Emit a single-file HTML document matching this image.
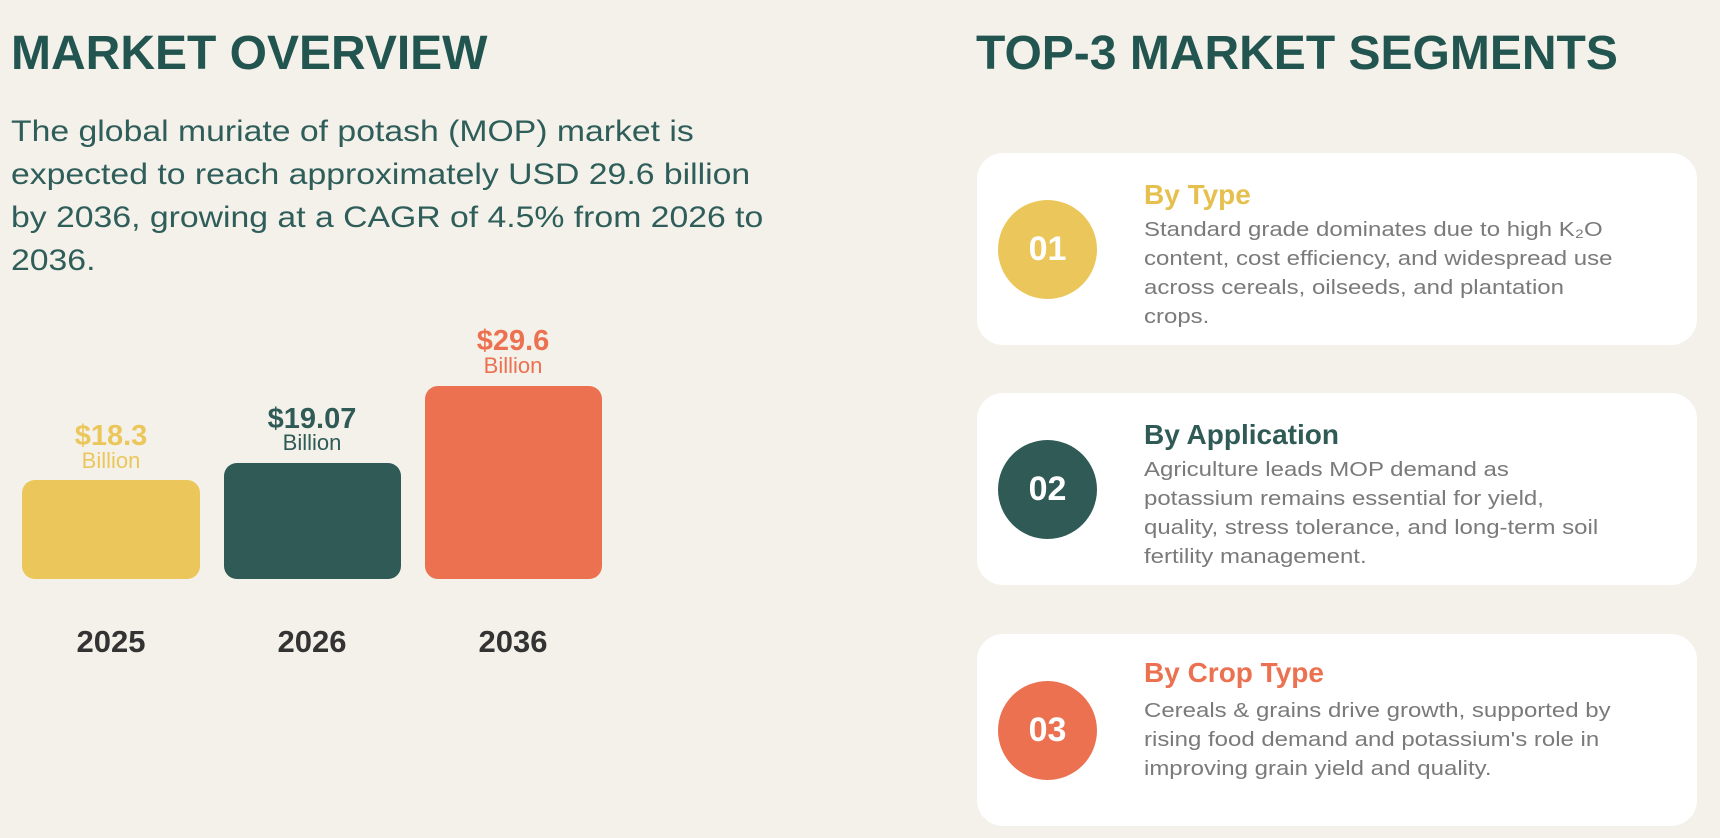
<!DOCTYPE html>
<html><head><meta charset="utf-8"><style>
*{margin:0;padding:0;box-sizing:border-box}
body{width:1720px;height:838px;background:#f4f1ea;font-family:"Liberation Sans",Arial,sans-serif;position:relative;overflow:hidden}
h1{position:absolute;font-size:48px;font-weight:bold;color:#235550;line-height:1}
.p{position:absolute;left:11px;top:110px;font-size:30px;line-height:43px;color:#2f5e5a;width:800px;transform:scaleX(1.125);transform-origin:0 0}
.bar{position:absolute;border-radius:13px}
.val{position:absolute;text-align:center;width:200px;font-weight:bold;font-size:29px;line-height:1}
.bil{position:absolute;text-align:center;width:200px;font-size:22px;line-height:1}
.yr{position:absolute;text-align:center;width:200px;font-weight:bold;font-size:31px;color:#333;top:624px}
.card{position:absolute;left:977px;width:720px;height:192px;background:#fff;border-radius:26px}
.circ{position:absolute;left:21px;top:47px;width:99px;height:99px;border-radius:50%;color:#fff;font-size:34px;font-weight:bold;text-align:center;line-height:99px}
.ht{position:absolute;left:167px;top:26px;font-size:28px;font-weight:bold;white-space:nowrap}
.d{position:absolute;left:167px;top:62px;font-size:20.5px;line-height:29px;color:#7a7a7a;width:500px;white-space:nowrap;transform:scaleX(1.17);transform-origin:0 0}
</style></head><body>
<h1 style="left:11px;top:30px">MARKET OVERVIEW</h1>
<h1 style="left:976px;top:30px">TOP-3 MARKET SEGMENTS</h1>
<div class="p">The global muriate of potash (MOP) market is<br>expected to reach approximately USD 29.6 billion<br>by 2036, growing at a CAGR of 4.5% from 2026 to<br>2036.</div>

<div class="bar" style="left:22px;top:480px;width:178px;height:99px;background:#ebc75b"></div>
<div class="bar" style="left:224px;top:463px;width:177px;height:116px;background:#2f5a56"></div>
<div class="bar" style="left:425px;top:386px;width:177px;height:193px;background:#ec7150"></div>

<div class="val" style="left:11px;top:422px;color:#ebc75b">$18.3</div>
<div class="bil" style="left:11px;top:450px;color:#ebc75b">Billion</div>
<div class="val" style="left:212px;top:405px;color:#2f5a56">$19.07</div>
<div class="bil" style="left:212px;top:432px;color:#2f5a56">Billion</div>
<div class="val" style="left:413px;top:327px;color:#ec7150">$29.6</div>
<div class="bil" style="left:413px;top:355px;color:#ec7150">Billion</div>

<div class="yr" style="left:11px">2025</div>
<div class="yr" style="left:212px">2026</div>
<div class="yr" style="left:413px">2036</div>

<div class="card" style="top:153px">
<div class="circ" style="background:#ebc75b">01</div>
<div class="ht" style="color:#e6c04f">By Type</div>
<div class="d">Standard grade dominates due to high K₂O<br>content, cost efficiency, and widespread use<br>across cereals, oilseeds, and plantation<br>crops.</div>
</div>
<div class="card" style="top:393px">
<div class="circ" style="background:#2f5a56">02</div>
<div class="ht" style="color:#2f5a56">By Application</div>
<div class="d">Agriculture leads MOP demand as<br>potassium remains essential for yield,<br>quality, stress tolerance, and long-term soil<br>fertility management.</div>
</div>
<div class="card" style="top:634px">
<div class="circ" style="background:#ec7150">03</div>
<div class="ht" style="color:#ec7150;top:23px">By Crop Type</div>
<div class="d" style="top:62px">Cereals &amp; grains drive growth, supported by<br>rising food demand and potassium's role in<br>improving grain yield and quality.</div>
</div>
</body></html>
